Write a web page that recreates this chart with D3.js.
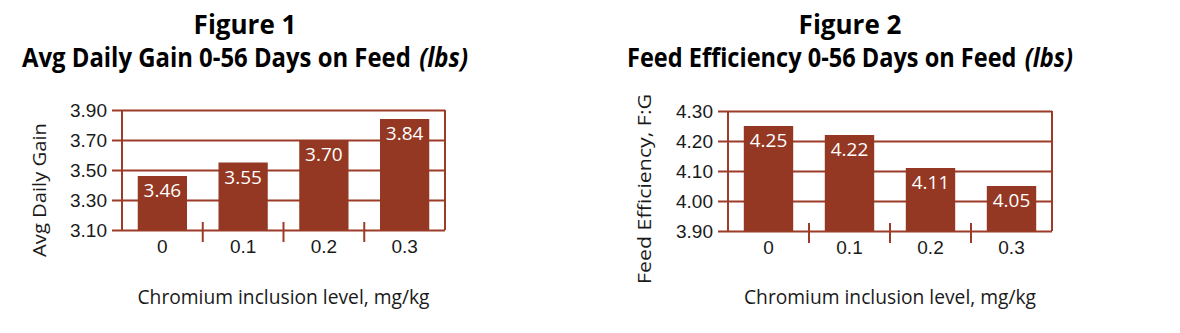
<!DOCTYPE html>
<html>
<head>
<meta charset="utf-8">
<script src="https://cdn.jsdelivr.net/npm/d3@7"></script>
<style>
  body { margin: 0; background: #fff; }
  svg { display: block; font-family: "Open Sans", "Noto Sans", sans-serif; }
</style>
</head>
<body>
<svg id="chart" width="1180" height="333"></svg>
<script>
// chromium inclusion levels, mg/kg
var levels = ["0", "0.1", "0.2", "0.3"];

// figure 1 - avg daily gain (lbs)
var adgValues = [3.46, 3.55, 3.70, 3.84];
var adgTicks = [3.10, 3.30, 3.50, 3.70, 3.90];

// figure 2 - feed efficiency F:G
var feValues = [4.25, 4.22, 4.11, 4.05];
var feTicks = [3.90, 4.00, 4.10, 4.20, 4.30];

var barColor = "#943823";
var lineColor = "#9c3c28";
var textColor = "#1a1a1a";

var svg = d3.select("#chart");

// squeeze or stretch a text element so it has the given width
function fitWidth(sel, w) {
    var len = sel.node().getComputedTextLength();
    if (Math.abs(len - w) > 2) {
        sel.attr("textLength", w).attr("lengthAdjust", "spacingAndGlyphs");
    }
}

function drawChart(opts) {
    var g = svg.append("g");

    var x = d3.scaleBand()
        .domain(levels)
        .range([opts.x0, opts.x1])
        .paddingInner(0.39)
        .paddingOuter(0.195);

    var y = d3.scaleLinear()
        .domain([opts.ticks[0], opts.ticks[opts.ticks.length - 1]])
        .range([opts.bottom, opts.top]);

    // gridlines + tick labels
    var yAxis = d3.axisLeft(y)
        .tickValues(opts.ticks)
        .tickFormat(d3.format(".2f"))
        .tickSizeInner(-(opts.x1 - opts.x0 + 10))
        .tickSizeOuter(0)
        .tickPadding(5);

    var ya = g.append("g")
        .attr("transform", "translate(" + (opts.x0 - 10) + ",0)")
        .call(yAxis);
    ya.select(".domain").remove();
    ya.selectAll(".tick line")
        .attr("stroke", lineColor)
        .attr("stroke-width", 2);
    ya.selectAll(".tick text")
        .attr("fill", textColor)
        .style("font-size", "19px")
        .style("font-family", "inherit");

    // frame sides
    g.selectAll(".side")
        .data([opts.x0, opts.x1])
        .enter().append("line")
        .attr("x1", function(d) { return d; })
        .attr("x2", function(d) { return d; })
        .attr("y1", y.range()[1])
        .attr("y2", y.range()[0])
        .attr("stroke", lineColor)
        .attr("stroke-width", 2);

    // separators between categories
    var half = x.step() * x.paddingInner() / 2;
    g.selectAll(".sep")
        .data(levels.slice(1))
        .enter().append("line")
        .attr("x1", function(d) { return x(d) - half; })
        .attr("x2", function(d) { return x(d) - half; })
        .attr("y1", opts.bottom - 8)
        .attr("y2", opts.bottom + 12)
        .attr("stroke", lineColor)
        .attr("stroke-width", 2);

    // bars
    g.selectAll(".bar")
        .data(opts.values)
        .enter().append("rect")
        .attr("x", function(d, i) { return x(levels[i]); })
        .attr("y", function(d) { return y(d); })
        .attr("width", x.bandwidth())
        .attr("height", function(d) { return opts.bottom - y(d); })
        .attr("fill", barColor);

    // value labels inside bars
    g.selectAll(".val")
        .data(opts.values)
        .enter().append("text")
        .attr("x", function(d, i) { return x(levels[i]) + x.bandwidth() / 2; })
        .attr("y", function(d) { return y(d) + 21; })
        .attr("text-anchor", "middle")
        .attr("fill", "#fff")
        .style("font-size", "19px")
        .text(function(d) { return d3.format(".2f")(d); });

    // category labels
    var xAxis = d3.axisBottom(x).tickSize(0).tickPadding(0);
    var xa = g.append("g")
        .attr("transform", "translate(0," + opts.bottom + ")")
        .call(xAxis);
    xa.select(".domain").remove();
    xa.selectAll(".tick text")
        .attr("dy", null)
        .attr("y", 23)
        .attr("fill", textColor)
        .style("font-size", "19px")
        .style("font-family", "inherit");

    // x title
    var xt = g.append("text")
        .attr("x", (opts.x0 + opts.x1) / 2)
        .attr("y", 304)
        .attr("text-anchor", "middle")
        .attr("fill", textColor)
        .style("font-size", "20px")
        .text("Chromium inclusion level, mg/kg");
    fitWidth(xt, 292);

    // y title
    var yt = g.append("text")
        .attr("transform", "translate(" + opts.yTitleX + "," + opts.yTitleY + ") rotate(-90)")
        .attr("text-anchor", "middle")
        .attr("fill", textColor)
        .style("font-size", "19px")
        .text(opts.yTitle);
    fitWidth(yt, opts.yTitleW);

    // headings
    g.append("text")
        .attr("x", opts.titleX)
        .attr("y", 34)
        .attr("text-anchor", "middle")
        .attr("fill", "#000")
        .style("font-size", "26px")
        .style("font-weight", "bold")
        .text(opts.figure);

    // second heading line: plain part + italic unit, condensed as a group to 446px
    var line2 = g.append("g");
    var main = line2.append("text")
        .attr("x", 0)
        .attr("y", 0)
        .attr("fill", "#000")
        .style("font-size", "26px")
        .style("font-weight", "bold")
        .text(opts.title);
    var unit = line2.append("text")
        .attr("y", 0)
        .attr("fill", "#000")
        .style("font-size", "26px")
        .style("font-weight", "bold")
        .style("font-style", "italic")
        .text("(lbs)");
    var w1 = main.node().getComputedTextLength();
    var w2 = unit.node().getComputedTextLength();
    var gap = 9;
    unit.attr("x", w1 + gap);
    var k = 446 / (w1 + gap + w2);
    line2.attr("transform", "translate(" + (opts.titleX - 223) + ",67) scale(" + k + ",1)");
}

drawChart({
    x0: 122, x1: 445, top: 110, bottom: 230,
    values: adgValues, ticks: adgTicks,
    figure: "Figure 1",
    title: "Avg Daily Gain 0-56 Days on Feed",
    titleX: 245,
    yTitle: "Avg Daily Gain",
    yTitleX: 46, yTitleY: 190, yTitleW: 134
});

drawChart({
    x0: 728, x1: 1052, top: 111, bottom: 231,
    values: feValues, ticks: feTicks,
    figure: "Figure 2",
    title: "Feed Efficiency 0-56 Days on Feed",
    titleX: 850,
    yTitle: "Feed Efficiency, F:G",
    yTitleX: 651, yTitleY: 189, yTitleW: 190
});
</script>
</body>
</html>
